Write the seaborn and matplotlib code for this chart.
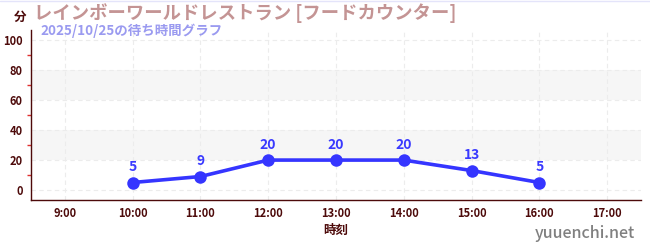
import matplotlib
matplotlib.use("Agg")
import matplotlib.pyplot as plt
from matplotlib.ticker import MultipleLocator
import seaborn as sns
import pandas as pd

hours = [10, 11, 12, 13, 14, 15, 16]
waits = [5, 9, 20, 20, 20, 13, 5]
tick_hours = [9, 10, 11, 12, 13, 14, 15, 16, 17]
tick_labels = [f"{h}:00" for h in tick_hours]
y_ticks = [0, 20, 40, 60, 80, 100]
bands = [(20, 40), (60, 80)]

title = "レインボーワールドレストラン [フードカウンター]"
subtitle = "2025/10/25の待ち時間グラフ"

sns.set_theme(style="white")
plt.rcParams['font.family'] = ['Noto Sans CJK JP', 'DejaVu Sans']

df = pd.DataFrame({"hour": hours, "wait": waits})

fig = plt.figure(figsize=(6.5, 2.5), dpi=100)
ax = fig.add_axes([31/650, 1 - 200/250, (641 - 31)/650, (200 - 30)/250])

for lo, hi in bands:
    ax.axhspan(lo, hi, color="#f6f6f6", zorder=0, lw=0)

sns.lineplot(data=df, x="hour", y="wait", ax=ax, color="#3535ff", lw=2.6,
             marker="o", markersize=9, markeredgewidth=0, zorder=3)

for h, w in zip(hours, waits):
    ax.annotate(str(w), (h, w), xytext=(0, 6), textcoords="offset points",
                ha="center", va="bottom", color="#3a3aff", fontsize=10,
                fontweight="bold")

ax.set_xlim(8.5, 17.5)
ax.set_ylim(-6.7, 107)
ax.set_xticks(tick_hours)
ax.set_xticklabels(tick_labels)
ax.set_yticks(y_ticks)
ax.yaxis.set_minor_locator(MultipleLocator(10))

axis_col = "#4d0a0a"
for s in ["top", "right"]:
    ax.spines[s].set_visible(False)
for s in ["left", "bottom"]:
    ax.spines[s].set_color(axis_col)
    ax.spines[s].set_linewidth(1.0)

ax.tick_params(axis="both", which="major", direction="out", length=4, width=1,
               color=axis_col, labelcolor=axis_col, labelsize=8, pad=2)
ax.tick_params(axis="x", which="major", pad=1)
ax.tick_params(axis="y", which="minor", direction="out", length=3, width=1,
               color="#e03030", left=True)
for lab in ax.get_xticklabels() + ax.get_yticklabels():
    lab.set_fontweight("bold")

ax.grid(True, which="major", color="#ececec", linestyle=(0, (4, 3)), lw=0.8)
ax.set_axisbelow(True)

ax.set_xlabel("時刻", color=axis_col, fontsize=9, fontweight="bold", labelpad=3)
ax.set_ylabel("")

fig.text(14/650, 1 - 17/250, "分", color=axis_col, fontsize=9, fontweight="bold",
         ha="left", va="center")
fig.text(34/650, 1 - 13/250, title, color="#c49494", fontsize=13.2,
         fontweight="bold", ha="left", va="center")
fig.text(40/650, 1 - 31/250, subtitle, color="#9a9af0", fontsize=9.7,
         fontweight="bold", ha="left", va="center")
fig.text(635/650, 1 - 234/250, "yuuenchi.net", color="#808080", fontsize=11.5,
         fontweight="medium", ha="right", va="center")

fig.add_artist(plt.Line2D([0, 1], [0.998, 0.998], color="#e4e4fa", lw=1,
                          transform=fig.transFigure))

fig.savefig("out.png", dpi=100)
